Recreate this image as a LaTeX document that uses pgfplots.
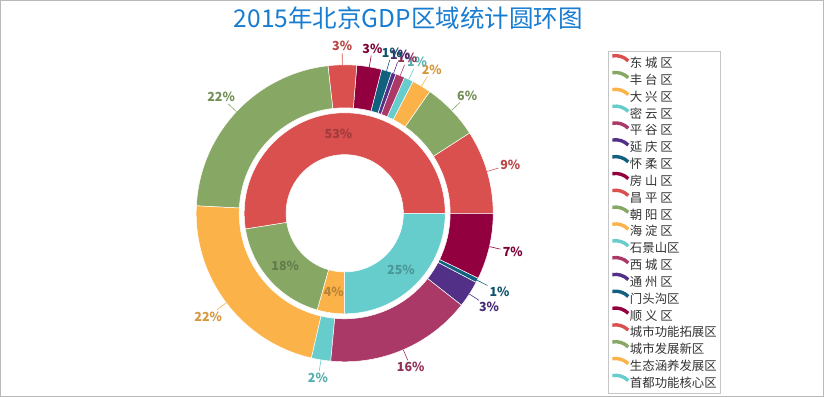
\documentclass[border=0pt]{standalone}
\usepackage{pgfplots}
\pgfplotsset{compat=1.18}
\usepackage{pgfplotstable}
\usetikzlibrary{calc}
\usepackage{fontspec}
\setmainfont{Noto Sans CJK SC}

\definecolor{cA}{RGB}{218,80,78}
\definecolor{cB}{RGB}{135,168,101}
\definecolor{cC}{RGB}{251,178,72}
\definecolor{cD}{RGB}{102,205,204}
\definecolor{cE}{RGB}{170,57,104}
\definecolor{cF}{RGB}{82,48,136}
\definecolor{cG}{RGB}{17,96,126}
\definecolor{cH}{RGB}{146,0,64}
\definecolor{titleblue}{RGB}{24,124,208}
\definecolor{legtext}{RGB}{51,51,51}

\pgfplotstableread{
name value lab col
东城区 9.1 9 cA
丰台区 6.2 6 cB
大兴区 2.1 2 cC
密云区 1.0 1 cD
平谷区 1.0 1 cE
延庆区 0.5 1 cF
怀柔区 1.1 1 cG
房山区 2.7 3 cH
昌平区 3.1 3 cA
朝阳区 22.4 22 cB
海淀区 22.2 22 cC
石景山区 2.1 2 cD
西城区 15.9 16 cE
通州区 2.9 3 cF
门头沟区 0.5 1 cG
顺义区 7.2 7 cH
}\outerdata

\pgfplotstableread{
name value lab col
城市功能拓展区 52.5 53 cA
城市发展新区 18.1 18 cB
生态涵养发展区 4.4 4 cC
首都功能核心区 25.0 25 cD
}\innerdata

\tikzset{
  olab/.style={font=\bfseries\fontsize{12.5}{14}\selectfont, inner sep=1pt},
  ilab/.style={font=\bfseries\fontsize{12.5}{14}\selectfont, inner sep=1pt},
}
\pgfplotsset{
  arcleg/.style={legend image code/.code={%
    \draw[##1, line width=3.4pt] (-1.13pt,8.73pt) arc[start angle=100, end angle=45, radius=18pt];}},
}

\begin{document}
\begin{tikzpicture}
\begin{axis}[
  at={(0,0)}, anchor=south west,
  scale only axis, width=824pt, height=397pt,
  xmin=0, xmax=824, ymin=0, ymax=397,
  hide axis, clip=false,
  legend cell align=left,
  legend style={at={(axis cs:607.5,345.5)}, anchor=north west,
    draw=gray!45, fill=white, text=legtext,
    font=\fontsize{12.4}{13}\selectfont,
    inner xsep=3pt, inner ysep=1.5pt, row sep=-1.53pt,
    nodes={inner sep=0pt, text height=9.94pt, text depth=3.87pt},
    /tikz/every even column/.append style={column sep=5pt}},
]
\coordinate (O) at (axis cs:344.7,183.7);

% outer ring
\def\cum{0}
\pgfplotstablegetrowsof{\outerdata}\pgfmathtruncatemacro\N{\pgfplotsretval-1}
\pgfplotsforeachungrouped \i in {0,...,\N}{%
  \pgfplotstablegetelem{\i}{value}\of\outerdata\let\v\pgfplotsretval
  \pgfplotstablegetelem{\i}{lab}\of\outerdata\let\l\pgfplotsretval
  \pgfplotstablegetelem{\i}{col}\of\outerdata\let\c\pgfplotsretval
  \pgfmathsetmacro\a{\cum*3.6}%
  \pgfmathsetmacro\cumnew{\cum+\v}%
  \pgfmathsetmacro\b{\cumnew*3.6}%
  \pgfmathsetmacro\m{(\a+\b)/2}%
  \pgfmathsetmacro\an{mod(\m+180,360)}%
  \global\let\cum\cumnew
  \edef\temp{%
    \noexpand\fill[\c, draw=white, line width=0.5pt] ($(O)+(\a:148.5pt)$) arc[start angle=\a, end angle=\b, radius=148.5pt] -- ($(O)+(\b:105.5pt)$) arc[start angle=\b, end angle=\a, radius=105.5pt] -- cycle;
    \noexpand\draw[\c, line width=0.6pt] ($(O)+(\m:148.5pt)$) -- ($(O)+(\m:160pt)$);
    \noexpand\node[olab, text=\c!85!black, anchor=\an] at ($(O)+(\m:161pt)$) {\l\noexpand\%};
  }\temp
}

% inner ring
\def\cum{0}
\pgfplotstablegetrowsof{\innerdata}\pgfmathtruncatemacro\N{\pgfplotsretval-1}
\pgfplotsforeachungrouped \i in {0,...,\N}{%
  \pgfplotstablegetelem{\i}{value}\of\innerdata\let\v\pgfplotsretval
  \pgfplotstablegetelem{\i}{lab}\of\innerdata\let\l\pgfplotsretval
  \pgfplotstablegetelem{\i}{col}\of\innerdata\let\c\pgfplotsretval
  \pgfmathsetmacro\a{\cum*3.6}%
  \pgfmathsetmacro\cumnew{\cum+\v}%
  \pgfmathsetmacro\b{\cumnew*3.6}%
  \pgfmathsetmacro\m{(\a+\b)/2}%
  \global\let\cum\cumnew
  \edef\temp{%
    \noexpand\fill[\c, draw=white, line width=0.5pt] ($(O)+(\a:100.5pt)$) arc[start angle=\a, end angle=\b, radius=100.5pt] -- ($(O)+(\b:58.7pt)$) arc[start angle=\b, end angle=\a, radius=58.7pt] -- cycle;
    \noexpand\node[ilab, text=\c!65!black, text opacity=0.75] at ($(O)+(\m:79.6pt)$) {\l\noexpand\%};
  }\temp
}

% title
\node[font=\fontsize{24.5}{28}\selectfont, text=titleblue] at (axis cs:408.3,378.7) {2015年北京GDP区域统计圆环图};

% frame
\draw[gray!55, line width=1pt] (axis cs:0.5,0.5) rectangle (axis cs:823.5,396.5);

% legend
\addlegendimage{arcleg, cA}\addlegendentry{东 城 区}
\addlegendimage{arcleg, cB}\addlegendentry{丰 台 区}
\addlegendimage{arcleg, cC}\addlegendentry{大 兴 区}
\addlegendimage{arcleg, cD}\addlegendentry{密 云 区}
\addlegendimage{arcleg, cE}\addlegendentry{平 谷 区}
\addlegendimage{arcleg, cF}\addlegendentry{延 庆 区}
\addlegendimage{arcleg, cG}\addlegendentry{怀 柔 区}
\addlegendimage{arcleg, cH}\addlegendentry{房 山 区}
\addlegendimage{arcleg, cA}\addlegendentry{昌 平 区}
\addlegendimage{arcleg, cB}\addlegendentry{朝 阳 区}
\addlegendimage{arcleg, cC}\addlegendentry{海 淀 区}
\addlegendimage{arcleg, cD}\addlegendentry{石景山区}
\addlegendimage{arcleg, cE}\addlegendentry{西 城 区}
\addlegendimage{arcleg, cF}\addlegendentry{通 州 区}
\addlegendimage{arcleg, cG}\addlegendentry{门头沟区}
\addlegendimage{arcleg, cH}\addlegendentry{顺 义 区}
\addlegendimage{arcleg, cA}\addlegendentry{城市功能拓展区}
\addlegendimage{arcleg, cB}\addlegendentry{城市发展新区}
\addlegendimage{arcleg, cC}\addlegendentry{生态涵养发展区}
\addlegendimage{arcleg, cD}\addlegendentry{首都功能核心区}
\end{axis}
\pgfresetboundingbox
\path[use as bounding box] (0,0) rectangle (824pt,397pt);
\end{tikzpicture}
\end{document}
